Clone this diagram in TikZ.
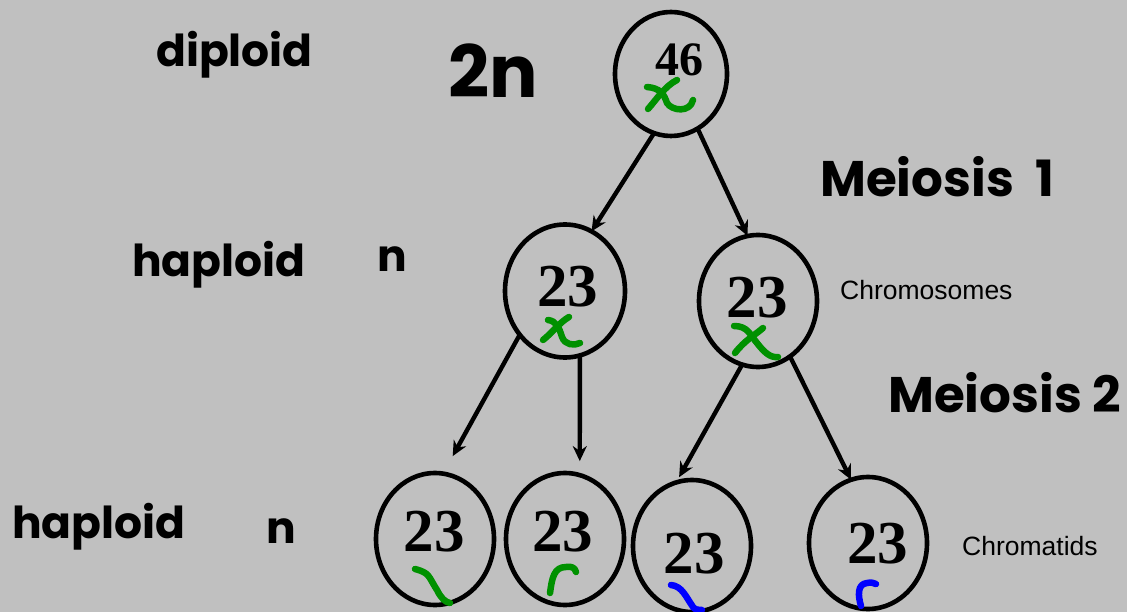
\documentclass[tikz,border=0pt]{standalone}
\usepackage{fontspec}
\usetikzlibrary{shapes.geometric,arrows.meta}
\setmainfont{Liberation Sans}
\newfontfamily\cellfont{Liberation Serif}
\newfontfamily\handfont{Poppins}
\definecolor{cellgreen}{RGB}{0,145,0}
\definecolor{cellblue}{RGB}{0,0,255}
\definecolor{slidegray}{RGB}{192,192,192}

\begin{document}
\begin{tikzpicture}[
    x=1pt, y=-1pt,
    cell/.style={ellipse, draw=black, line width=4.6pt, outer sep=0pt, inner sep=0pt},
    count/.style={anchor=base, inner sep=0pt, font=\cellfont\fontsize{61}{61}\selectfont\bfseries},
    hand/.style={anchor=base west, inner sep=0pt, font=\handfont\fontsize{44}{44}\selectfont\bfseries},
    note/.style={anchor=base west, inner sep=0pt, font=\fontsize{26.5}{26.5}\selectfont},
    split/.style={line width=4.4pt, -{Stealth[length=15pt,width=14pt]}},
    strand/.style={line width=6.5pt, line cap=round, line join=round}
]
    \useasboundingbox (0,0) rectangle (1127,612);
    \fill[slidegray] (0,0) rectangle (1127,612);

    % cells
    \node[cell, minimum width=112pt, minimum height=124pt] (top) at (671,74) {};
    \node[cell, minimum width=120pt, minimum height=133pt] (midl) at (565,291) {};
    \node[cell, minimum width=118pt, minimum height=132pt] (midr) at (758,301) {};
    \node[cell, minimum width=118pt, minimum height=132pt] (botA) at (435,539) {};
    \node[cell, minimum width=118pt, minimum height=132pt] (botB) at (565,539) {};
    \node[cell, minimum width=118pt, minimum height=132pt] (botC) at (692,546) {};
    \node[cell, minimum width=118pt, minimum height=132pt] (botD) at (868,543) {};

    % chromosome counts
    \node[count, font=\cellfont\fontsize{48}{48}\selectfont\bfseries] (nTop) at (679,76) {46};
    \node[count] (nMidl) at (567.5,307) {23};
    \node[count] (nMidr) at (757,317) {23};
    \node[count] (nBotA) at (434,551) {23};
    \node[count] (nBotB) at (562.5,551) {23};
    \node[count] (nBotC) at (694,573) {23};
    \node[count] (nBotD) at (877.5,563) {23};

    % divisions
    \draw[split] (top.254) -- (midl.66);
    \draw[split] (top.296) -- (midr.99);
    \draw[split, shorten >=20pt] (midl.224) -- (botA.83);
    \draw[split, shorten >=14pt] (midl.283) -- (botB.77);
    \draw[split, shorten >=6pt] (midr.256) -- (botC.104);
    \draw[split] (midr.300) -- (botD.105);

    % chromosomes and chromatids
    \draw[strand, cellgreen] (677,80) .. controls (665,86) and (656,100) .. (648,109);
    \draw[strand, cellgreen] (647,87) .. controls (660,88) and (664,94) .. (667,103)
        .. controls (672,111) and (690,113) .. (693,100);
    \draw[strand, cellgreen] (569,317) .. controls (560,322) and (552,333) .. (543,340);
    \draw[strand, cellgreen] (548,320) .. controls (556,321) and (559,327) .. (562,337)
        .. controls (565,345) and (574,346) .. (580,343);
    \draw[strand, cellgreen] (763,328) .. controls (755,335) and (745,340) .. (735,353);
    \draw[strand, cellgreen] (734,326) .. controls (748,326) and (750,335) .. (757,343)
        .. controls (764,352) and (770,358) .. (778,357);
    \draw[strand, cellgreen] (415,569) .. controls (430,573) and (428,576) .. (437,590)
        .. controls (441,598) and (445,602) .. (450,603);
    \draw[strand, cellgreen] (550,593) .. controls (552,578) and (554,567) .. (566,567)
        .. controls (572,566) and (575,568) .. (576,572);
    \draw[strand, cellblue] (671,585) .. controls (682,586) and (686,597) .. (693,607)
        .. controls (695,610) and (699,610) .. (702,610);
    \draw[strand, cellblue] (861,606) .. controls (858,596) and (857,584) .. (867,583)
        .. controls (871,582) and (874,583) .. (876,584);

    % labels
    \node[hand] (lDiploid) at (156,67) {diploid};
    \node[hand, font=\handfont\fontsize{72}{72}\selectfont\bfseries] (lTwoN) at (448,98) {2n};
    \node[hand] (lHaploidA) at (132,277) {haploid};
    \node[hand] (lNA) at (377,272) {n};
    \node[hand] (lHaploidB) at (12,538) {haploid};
    \node[hand] (lNB) at (266,543) {n};
    \node[hand, font=\handfont\fontsize{50}{50}\selectfont\bfseries] (lMeiosisA) at (820,197) {Meiosis\hspace{21pt}1};
    \node[hand, font=\handfont\fontsize{50}{50}\selectfont\bfseries] (lMeiosisB) at (888,412) {Meiosis 2};
    \node[note] (lChromosomes) at (840,300) {Chromosomes};
    \node[note] (lChromatids) at (962,555) {Chromatids};
\end{tikzpicture}
\end{document}
